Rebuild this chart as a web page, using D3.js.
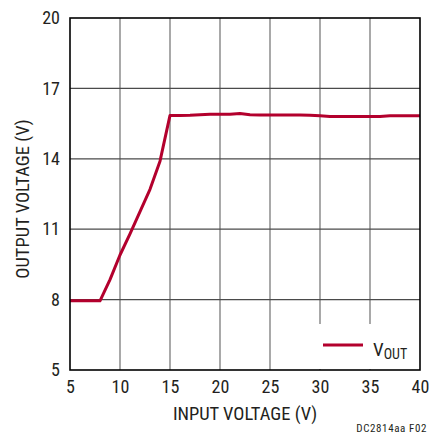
<!DOCTYPE html>
<html><head><meta charset="utf-8">
<script src="https://cdn.jsdelivr.net/npm/d3@7"></script>
<style>
body{margin:0;background:#fff;}
svg text{font-family:"Liberation Sans Narrow","Arial Narrow","Roboto Condensed",sans-serif;fill:#231f20;}
</style></head><body>
<svg id="c" width="432" height="436"></svg>
<script>
const inputV = [5,6,7,8,9,10,11,12,13,14,15,16,17,18,19,20,21,22,23,24,25,26,27,28,29,30,31,32,33,34,35,36,37,38,39,40];
const outputV = [7.95,7.95,7.95,7.95,8.85,9.9,10.8,11.75,12.7,13.9,15.85,15.85,15.86,15.88,15.9,15.9,15.9,15.93,15.88,15.87,15.87,15.87,15.87,15.87,15.86,15.83,15.8,15.8,15.8,15.8,15.8,15.8,15.83,15.83,15.83,15.83];
const xTicks = [5,10,15,20,25,30,35,40];
const yTicks = [5,8,11,14,17,20];
const seriesName = "V";
const seriesSub = "OUT";

const svg = d3.select("#c");
const L=70,R=420,T=18,B=370;
const x = d3.scaleLinear().domain([5,40]).range([L,R]);
const y = d3.scaleLinear().domain([5,20]).range([B,T]);

// grid
const g = svg.append("g");
g.selectAll("line.v").data(xTicks.slice(1,-1)).enter().append("line")
 .attr("x1",d=>x(d)).attr("x2",d=>x(d)).attr("y1",T).attr("y2",B)
 .attr("stroke","#7a7a7a").attr("stroke-width",1.3);
g.selectAll("line.h").data(yTicks.slice(1,-1)).enter().append("line")
 .attr("x1",L).attr("x2",R).attr("y1",d=>y(d)).attr("y2",d=>y(d))
 .attr("stroke","#4a4a4a").attr("stroke-width",1.3);

// data line
const line = d3.line().x((d,i)=>x(inputV[i])).y(d=>y(d));
svg.append("path").datum(outputV).attr("d",line).attr("fill","none")
 .attr("stroke","#b3002d").attr("stroke-width",3).attr("stroke-linejoin","round");

// legend box
svg.append("rect").attr("x",316).attr("y",324).attr("width",R-316).attr("height",B-324-1).attr("fill","#fff");
svg.append("line").attr("x1",323).attr("x2",363).attr("y1",345).attr("y2",345)
 .attr("stroke","#b3002d").attr("stroke-width",3);
const lt = svg.append("text").attr("x",373).attr("y",356).attr("font-size",19);
lt.append("tspan").text(seriesName);
lt.append("tspan").attr("font-size",14).attr("dy",3).text(seriesSub);

// frame
svg.append("rect").attr("x",L).attr("y",T).attr("width",R-L).attr("height",B-T)
 .attr("fill","none").attr("stroke","#000").attr("stroke-width",1.6);

// axes labels
const xa = svg.append("g").attr("transform",`translate(0,${B})`)
 .call(d3.axisBottom(x).tickValues(xTicks).tickSize(0).tickPadding(10));
xa.select(".domain").remove();
xa.selectAll("text").attr("font-size",18).attr("dy","0.71em");
const ya = svg.append("g").attr("transform",`translate(${L},0)`)
 .call(d3.axisLeft(y).tickValues(yTicks).tickSize(0).tickPadding(10));
ya.select(".domain").remove();
ya.selectAll("text").attr("font-size",18);

svg.append("text").attr("x",245).attr("y",420).attr("text-anchor","middle").attr("font-size",18.5).text("INPUT VOLTAGE (V)");
svg.append("text").attr("transform","translate(29,199) rotate(-90)").attr("text-anchor","middle").attr("font-size",18.5).text("OUTPUT VOLTAGE (V)");
svg.append("text").attr("x",427).attr("y",432).attr("text-anchor","end").attr("font-size",11).attr("letter-spacing",0.6).text("DC2814aa F02");
</script></body></html>
